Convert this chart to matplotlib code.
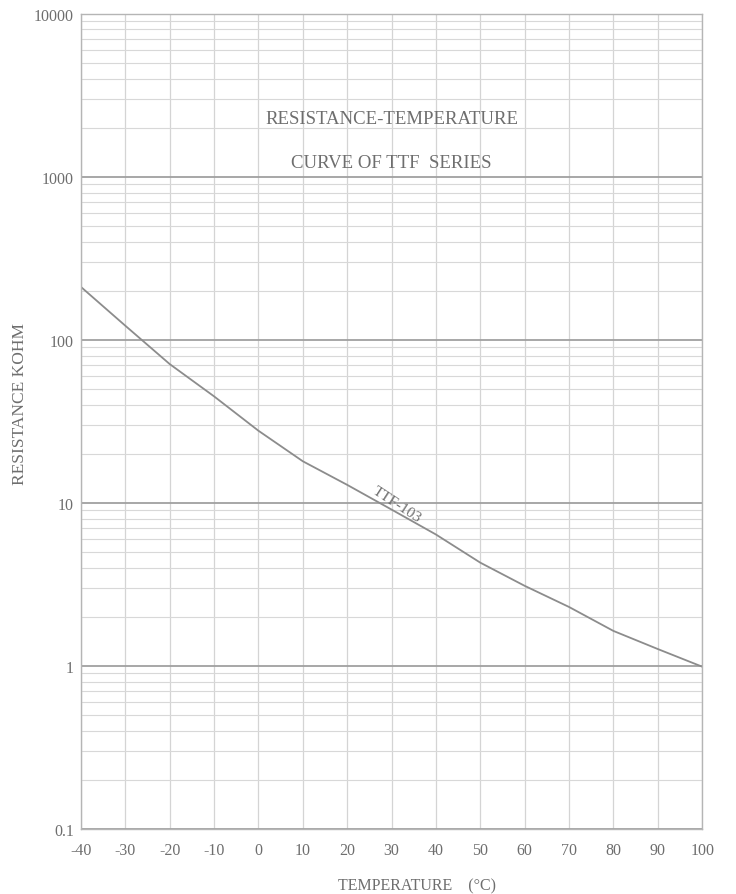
import numpy as np
import matplotlib
matplotlib.use("Agg")
import matplotlib.pyplot as plt
from matplotlib.ticker import LogLocator, FixedLocator, NullFormatter

# TTF-103 resistance-temperature curve
temp_c = [-40, -30, -20, -10, 0, 10, 20, 30, 40, 50, 60, 70, 80, 90, 100]
r_kohm = [211, 122, 71, 45, 27.7, 18.0, 12.9, 9.1, 6.4, 4.3, 3.1, 2.3, 1.64, 1.27, 0.99]

x_ticks = [-40, -30, -20, -10, 0, 10, 20, 30, 40, 50, 60, 70, 80, 90, 100]
y_ticks = [0.1, 1, 10, 100, 1000, 10000]
y_labels = ["0.1", "1", "10", "100", "1000", "10000"]

plt.rcParams["font.family"] = ["Liberation Serif", "DejaVu Serif"]
txt = "#6e6e6e"

fig = plt.figure(figsize=(7.36, 8.95), dpi=100)
ax = fig.add_axes([0.110, 0.0726, 0.844, 0.911])

ax.set_yscale("log")
ax.set_xlim(-40, 100)
ax.set_ylim(0.1, 10000)

ax.plot(temp_c, r_kohm, color="#8c8c8c", lw=1.3)

# grid
ax.yaxis.set_major_locator(FixedLocator(y_ticks))
ax.yaxis.set_minor_locator(LogLocator(base=10, subs=np.arange(2, 10)))
ax.yaxis.set_minor_formatter(NullFormatter())
ax.set_yticklabels(y_labels)
ax.set_xticks(x_ticks)
ax.set_xticklabels([str(t) for t in x_ticks])
ax.grid(True, which="major", axis="y", color="#a0a0a0", lw=1.3)
ax.grid(True, which="minor", axis="y", color="#d8d8d8", lw=0.8)
ax.grid(True, which="major", axis="x", color="#d4d4d4", lw=0.9)
ax.set_axisbelow(True)

ax.tick_params(which="both", length=0, colors=txt, labelsize=11.5)
ax.tick_params(axis="x", pad=9)
ax.tick_params(axis="y", pad=5)
for s in ax.spines.values():
    s.set_color("#b5b5b5")
    s.set_linewidth(1.0)

fig.text(417 / 736, 1 - 886 / 895, "TEMPERATURE    (\u00b0C)", color=txt,
         fontsize=11.5, ha="center", va="center")
fig.text(20 / 736, 1 - 404 / 895, "RESISTANCE KOHM", color=txt,
         fontsize=12.5, ha="center", va="center", rotation=90)

ax.text(0.5, 0.872, "RESISTANCE-TEMPERATURE", transform=ax.transAxes,
        ha="center", va="center", color=txt, fontsize=13.5)
ax.text(0.5, 0.818, "CURVE OF TTF  SERIES", transform=ax.transAxes,
        ha="center", va="center", color=txt, fontsize=13.5)
ax.text(31.2, 9.9, "TTF-103", rotation=-33, ha="center", va="center",
        color=txt, fontsize=11, rotation_mode="anchor")

fig.savefig("out.png", dpi=100, facecolor="white")
